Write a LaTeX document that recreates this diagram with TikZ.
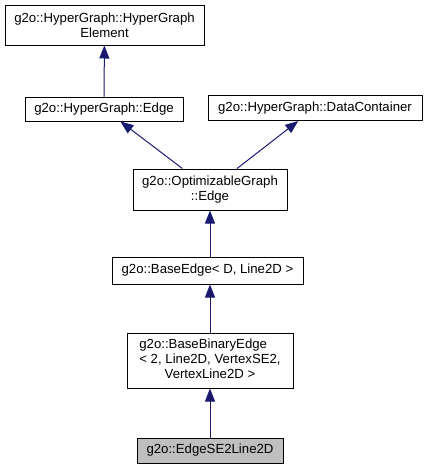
\documentclass[tikz,border=0pt]{standalone}
\usepackage{fontspec}
\setmainfont{Liberation Sans}
\usetikzlibrary{arrows.meta}
\definecolor{edgeblue}{RGB}{25,25,112}
\definecolor{nodegrey}{RGB}{191,191,191}
\begin{document}
\begin{tikzpicture}[x=1pt, y=-1pt,
    every node/.style={font=\fontsize{13.2}{15}\selectfont},
    cls/.style={draw, line width=1pt, inner sep=0pt, align=center},
    inh/.style={edgeblue, line width=1pt, -{Triangle[length=13pt, width=10pt]}}]
    \useasboundingbox (0,0) rectangle (427,469);

    % Klassen
    \node[cls, minimum width=199pt, minimum height=40pt] (hgelem) at (104.5,25) {g2o::HyperGraph::HyperGraph\\Element};
    \node[cls, minimum width=158pt, minimum height=24pt] (hgedge) at (104,109) {g2o::HyperGraph::Edge};
    \node[cls, minimum width=214pt, minimum height=25pt] (datacont) at (315,108) {g2o::HyperGraph::DataContainer};
    \node[cls, minimum width=154pt, minimum height=41pt] (ogedge) at (210,189.5) {g2o::OptimizableGraph\\::Edge};
    \node[cls, minimum width=191pt, minimum height=27pt] (baseedge) at (207.5,270.5) {g2o::BaseEdge< D, Line2D >};
    \node[cls, minimum width=166pt, minimum height=55pt] (binedge) at (210,360.5) {\begin{tabular}{@{}l@{}}g2o::BaseBinaryEdge\\< 2, Line2D, VertexSE2,\\\multicolumn{1}{@{}c@{}}{VertexLine2D >}\end{tabular}};
    \node[cls, fill=nodegrey, minimum width=146pt, minimum height=25pt] (se2line) at (210,450.5) {g2o::EdgeSE2Line2D};

    % Vererbung
    \draw[inh] (hgedge) -- (hgelem);
    \draw[inh] (ogedge) -- (hgedge);
    \draw[inh] (ogedge) -- (datacont);
    \draw[inh] (baseedge.north -| ogedge.south) -- (ogedge.south);
    \draw[inh] (binedge) -- (binedge.north |- baseedge.south);
    \draw[inh] (se2line) -- (binedge);
\end{tikzpicture}
\end{document}
